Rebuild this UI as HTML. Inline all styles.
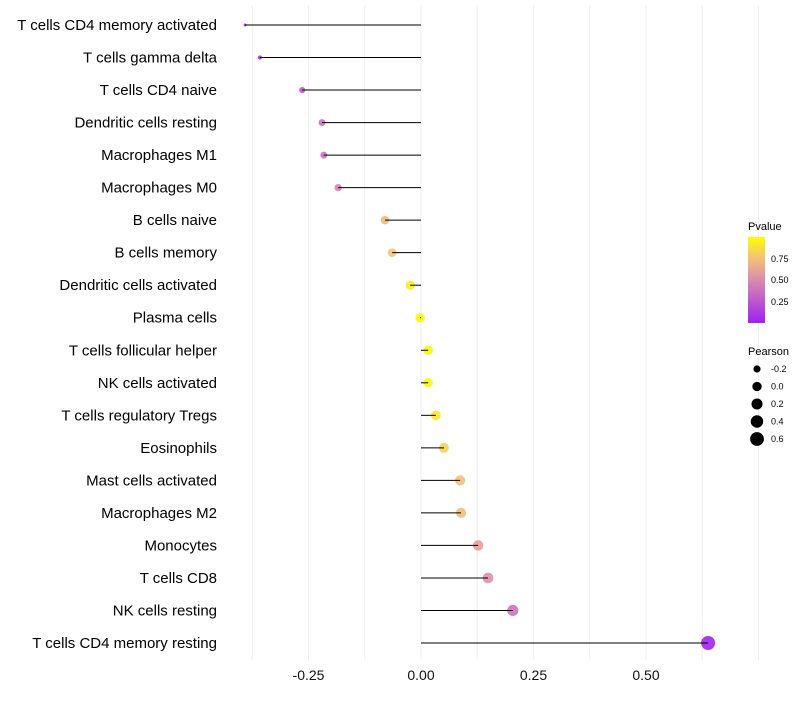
<!DOCTYPE html>
<html><head><meta charset="utf-8"><style>
body{margin:0;background:#fff;font-family:"Liberation Sans",sans-serif}
</style></head><body>
<svg id="chart" width="800" height="700" xmlns="http://www.w3.org/2000/svg" xml:space="preserve">
<defs><linearGradient id="pg" x1="0" y1="1" x2="0" y2="0">
<stop offset="0" stop-color="#a020f0"/><stop offset="0.5" stop-color="#da8cae"/><stop offset="0.75" stop-color="#f2c07a"/><stop offset="1" stop-color="#ffff00"/></linearGradient></defs>
<g id="grid"></g>
<g id="points"></g>
<g id="marks"></g>
<g id="labels"></g>
<g id="xticks"></g>
<g>
<text x="748" y="230" font-size="11" fill="#000">Pvalue</text>
<rect x="748" y="237" width="17" height="86" fill="url(#pg)"/>
<text x="771" y="262" font-size="9">0.75</text>
<text x="771" y="283" font-size="9">0.50</text>
<text x="771" y="305" font-size="9">0.25</text>
</g>
<g id="sizeleg">
<text x="748" y="355" font-size="11" fill="#000">Pearson</text>
</g>
</svg>
<script>
const categories=["T cells CD4 memory activated","T cells gamma delta","T cells CD4 naive","Dendritic cells resting","Macrophages M1","Macrophages M0","B cells naive","B cells memory","Dendritic cells activated","Plasma cells","T cells follicular helper","NK cells activated","T cells regulatory  Tregs ","Eosinophils","Mast cells activated","Macrophages M2","Monocytes","T cells CD8","NK cells resting","T cells CD4 memory resting"];
const pearson=[-0.391,-0.358,-0.264,-0.220,-0.216,-0.184,-0.080,-0.064,-0.024,-0.002,0.016,0.016,0.033,0.051,0.087,0.089,0.127,0.149,0.204,0.638];
const pvalue=[0.03,0.1,0.25,0.38,0.38,0.45,0.72,0.76,0.93,0.99,0.97,0.97,0.9,0.82,0.75,0.73,0.6,0.52,0.38,0.02];
const xTicks=[-0.25,0,0.25,0.5];
const xTickLabels=["-0.25","0.00","0.25","0.50"];
const sizeLegend=[-0.2,0,0.2,0.4,0.6];
const NS="http://www.w3.org/2000/svg";
function X(v){return 421+v*450;}
function Y(i){return 25+i*(618/19);}
function R(v){return 0.9+5.98*Math.sqrt(Math.max(0,v+0.40));}
const stops=[[0,[160,32,240]],[0.5,[218,140,174]],[0.75,[242,192,122]],[1,[255,255,0]]];
function col(p){for(let k=1;k<stops.length;k++){if(p<=stops[k][0]){const [p0,a]=stops[k-1],[p1,b]=stops[k];const t=(p-p0)/(p1-p0);
 return `rgb(${a.map((x,j)=>Math.round(x+(b[j]-x)*t)).join(',')})`;}}return 'rgb(255,255,0)';}
function mk(tag,at,parent){const e=document.createElementNS(NS,tag);for(const k in at)e.setAttribute(k,at[k]);parent.appendChild(e);return e;}
const grid=document.getElementById('grid'),marks=document.getElementById('marks'),pts=document.getElementById('points'),labels=document.getElementById('labels'),xt=document.getElementById('xticks'),sl=document.getElementById('sizeleg');
for(let v=-0.375;v<=0.75;v+=0.125){const l=mk('line',{x1:X(v),x2:X(v),y1:5,y2:660,stroke:'#efefef','stroke-width':1},grid);

}
xTicks.forEach((v,i)=>{const t=mk('text',{x:X(v),y:680,'font-size':14,'text-anchor':'middle',fill:'#111'},xt);t.textContent=xTickLabels[i];

});
categories.forEach((c,i)=>{
 const t=mk('text',{x:217,y:Y(i)+5,'font-size':15,'text-anchor':'end',fill:'#000'},labels);t.textContent=c;
 
 
 const p=mk('circle',{cx:X(pearson[i]),cy:Y(i),r:R(pearson[i]),fill:col(pvalue[i]),'fill-opacity':0.9},pts);
 
 
 const l=mk('line',{x1:X(0),x2:X(pearson[i]),y1:Y(i),y2:Y(i),stroke:'#000','stroke-width':1},marks);
 
 
});
sizeLegend.forEach((v,i)=>{const y=369+i*17.5;
 const c=mk('circle',{cx:757,cy:y,r:R(v),fill:'#000'},sl);
 
 
 const t=mk('text',{x:771,y:y+3,'font-size':9},sl);t.textContent=v.toFixed(1);
 
 });
</script>
</body></html>
